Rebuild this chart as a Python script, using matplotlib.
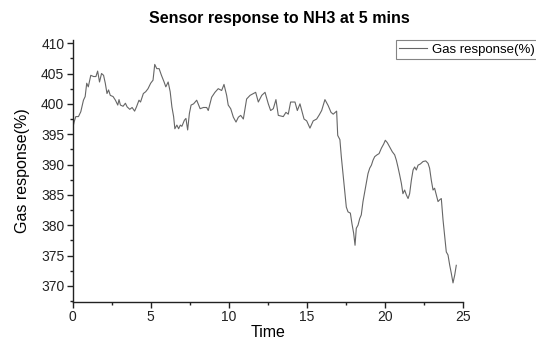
import numpy as np
import matplotlib
matplotlib.use("Agg")
import matplotlib.pyplot as plt
from matplotlib.ticker import MultipleLocator

plt.rcParams['font.family'] = ['Liberation Sans', 'DejaVu Sans']

# values
time = [0.0, 0.09, 0.2, 0.37, 0.52, 0.69, 0.8, 0.9, 1.0, 1.16, 1.34, 1.49, 1.6, 1.72,
        1.85, 1.98, 2.09, 2.2, 2.3, 2.41, 2.59, 2.74, 2.89, 2.97, 3.06, 3.23, 3.38,
        3.49, 3.66, 3.81, 3.97, 4.09, 4.25, 4.35, 4.53, 4.68, 4.83, 5.0, 5.15, 5.26,
        5.39, 5.54, 5.69, 5.86, 5.97, 6.12, 6.25, 6.36, 6.47, 6.55, 6.68, 6.79, 6.9,
        7.0, 7.16, 7.26, 7.37, 7.48, 7.59, 7.75, 7.95, 8.17, 8.38, 8.59, 8.69, 8.91,
        9.12, 9.33, 9.55, 9.7, 9.87, 9.97, 10.13, 10.3, 10.47, 10.62, 10.77, 10.94,
        11.15, 11.37, 11.58, 11.73, 11.9, 12.12, 12.33, 12.54, 12.69, 12.86, 13.03,
        13.18, 13.5, 13.67, 13.82, 13.97, 14.25, 14.4, 14.57, 14.83, 15.0, 15.21,
        15.42, 15.64, 15.81, 15.96, 16.17, 16.38, 16.56, 16.7, 16.92, 16.99, 17.13,
        17.22, 17.33, 17.44, 17.54, 17.65, 17.8, 17.9, 18.01, 18.1, 18.18, 18.29,
        18.4, 18.5, 18.61, 18.72, 18.82, 18.93, 19.04, 19.15, 19.25, 19.36, 19.51,
        19.64, 19.79, 19.94, 20.04, 20.17, 20.32, 20.49, 20.64, 20.75, 20.85, 20.96,
        21.07, 21.17, 21.28, 21.39, 21.5, 21.6, 21.71, 21.82, 21.92, 22.03, 22.14,
        22.29, 22.46, 22.63, 22.78, 22.88, 22.99, 23.1, 23.2, 23.31, 23.42, 23.53,
        23.63, 23.74, 23.85, 23.95, 24.06, 24.17, 24.27, 24.38, 24.49, 24.59]

response = [395.9, 397.0, 397.9, 397.9, 398.7, 400.6, 401.2, 403.4, 402.8, 404.7,
            404.5, 404.5, 405.4, 403.6, 405.0, 404.7, 403.4, 401.7, 402.3, 401.4,
            401.2, 400.6, 399.8, 400.7, 399.8, 399.6, 400.1, 399.5, 399.1, 399.4,
            398.8, 399.5, 400.6, 400.3, 401.7, 402.0, 402.5, 403.4, 403.9, 406.5,
            405.8, 405.8, 404.7, 403.6, 402.8, 403.6, 402.0, 399.5, 397.9, 395.9,
            396.5, 395.9, 396.5, 396.3, 397.3, 397.6, 395.7, 398.4, 399.8, 400.0,
            400.6, 399.2, 399.4, 399.4, 398.9, 401.1, 401.9, 402.5, 402.2, 403.2,
            401.4, 399.8, 399.2, 397.8, 397.0, 397.8, 398.1, 397.5, 400.8, 401.4,
            401.7, 401.9, 400.3, 401.4, 401.9, 400.0, 398.9, 399.2, 400.7, 398.1,
            397.9, 398.6, 398.3, 400.3, 400.3, 398.9, 400.0, 397.5, 397.2, 396.0,
            397.2, 397.5, 398.2, 398.9, 400.7, 399.7, 398.6, 398.3, 398.8, 394.8,
            394.1, 391.3, 388.5, 385.8, 383.0, 382.2, 382.0, 380.3, 378.7, 376.7,
            379.5, 380.0, 381.1, 381.7, 383.9, 385.5, 386.9, 388.5, 389.4, 389.9,
            390.7, 391.3, 391.6, 391.8, 392.7, 393.4, 394.0, 393.6, 392.9, 392.1,
            391.6, 390.7, 389.6, 388.3, 386.9, 385.2, 385.8, 385.0, 384.4, 385.2,
            387.4, 389.1, 389.6, 389.1, 389.9, 390.1, 390.5, 390.6, 390.2, 389.4,
            387.4, 385.8, 386.1, 385.0, 383.9, 384.2, 384.4, 380.9, 378.1, 375.6,
            375.1, 373.4, 372.1, 370.5, 371.8, 373.4]

fig = plt.figure(figsize=(5.36, 3.4), dpi=100)
ax = fig.add_axes([0.1356, 0.1126, 0.7276, 0.7694])

line, = ax.plot(time, response, color='#666666', linewidth=0.8, label='Gas response(%)')

ax.set_xlim(0, 25)
ax.set_ylim(367.4, 410.5)
ax.xaxis.set_major_locator(MultipleLocator(5))
ax.xaxis.set_minor_locator(MultipleLocator(2.5))
ax.yaxis.set_major_locator(MultipleLocator(5))
ax.yaxis.set_minor_locator(MultipleLocator(2.5))
ax.set_yticks(np.arange(370, 411, 5))

for s in ['top', 'right']:
    ax.spines[s].set_visible(False)
for s in ['left', 'bottom']:
    ax.spines[s].set_linewidth(1.0)
    ax.spines[s].set_color('#222222')

ax.tick_params(which='major', direction='out', length=4, width=1, labelsize=10,
               colors='#222222', pad=2)
ax.tick_params(which='minor', direction='out', length=2.5, width=1, colors='#222222')

ax.set_xlabel('Time', fontsize=11.5, labelpad=1)
ax.set_ylabel('Gas response(%)', fontsize=11.5, labelpad=8)

fig.text(0.522, 0.947, 'Sensor response to NH3 at 5 mins', ha='center', va='center',
         fontsize=11.5, fontweight='bold')

leg = fig.legend(handles=[line], loc='upper left', bbox_to_anchor=(396 / 536, 1 - 40 / 340),
                 fontsize=9.5, frameon=True, fancybox=False, handlelength=2.1,
                 borderpad=0.25, handletextpad=0.4, borderaxespad=0)
leg.get_frame().set_edgecolor('#666666')
leg.get_frame().set_linewidth(0.8)

fig.savefig('out.png', dpi=100)
